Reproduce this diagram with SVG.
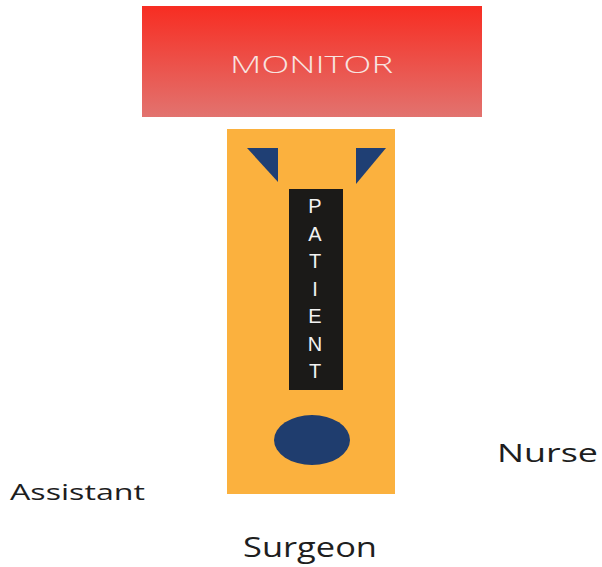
<svg xmlns="http://www.w3.org/2000/svg" width="602" height="567" viewBox="0 0 602 567">
<defs>
<linearGradient id="mon" x1="0" y1="0" x2="0" y2="1">
<stop offset="0" stop-color="#f72d22"/>
<stop offset="1" stop-color="#e2736f"/>
</linearGradient>
<style>
.lbl{font-family:"Open Sans","Liberation Sans",sans-serif;fill:#1e1e1e;font-weight:400}
.pt{font-family:"Liberation Sans","Open Sans",sans-serif;fill:#f2f2f2;font-size:20px;text-anchor:middle}
.tri{fill:#1f3f74}
</style>
</defs>
<rect width="602" height="567" fill="#ffffff"/>
<g id="monitor">
<rect x="142" y="6" width="340" height="111" fill="url(#mon)"/>
<text x="230" y="73" font-family="'Open Sans','Liberation Sans',sans-serif" font-weight="300" font-size="24" fill="#f7e4e0" textLength="163" lengthAdjust="spacingAndGlyphs">MONITOR</text>
</g>
<g id="patient">
<rect x="227" y="129" width="168" height="365" fill="#fbb13e"/>
<polygon class="tri" points="247,148 278,148 278,182"/>
<polygon class="tri" points="356,148 386,148 356,184"/>
<rect x="289" y="189" width="54" height="201" fill="#1b1a18"/>
<text class="pt" x="315" y="213">P</text>
<text class="pt" x="315" y="241">A</text>
<text class="pt" x="315" y="268">T</text>
<text class="pt" x="315" y="296">I</text>
<text class="pt" x="315" y="323">E</text>
<text class="pt" x="315" y="351">N</text>
<text class="pt" x="315" y="378">T</text>
<ellipse cx="312" cy="440" rx="38" ry="25" fill="#1f3d6e"/>
</g>
<g id="nurse"><text class="lbl" x="497" y="462" font-size="26" textLength="101" lengthAdjust="spacingAndGlyphs">Nurse</text></g>
<g id="assistant"><text class="lbl" x="10" y="500" font-size="22" textLength="135" lengthAdjust="spacingAndGlyphs">Assistant</text></g>
<g id="surgeon"><text class="lbl" x="243" y="557" font-size="27" textLength="134" lengthAdjust="spacingAndGlyphs">Surgeon</text></g>
<g id="connectors"></g>
</svg>
